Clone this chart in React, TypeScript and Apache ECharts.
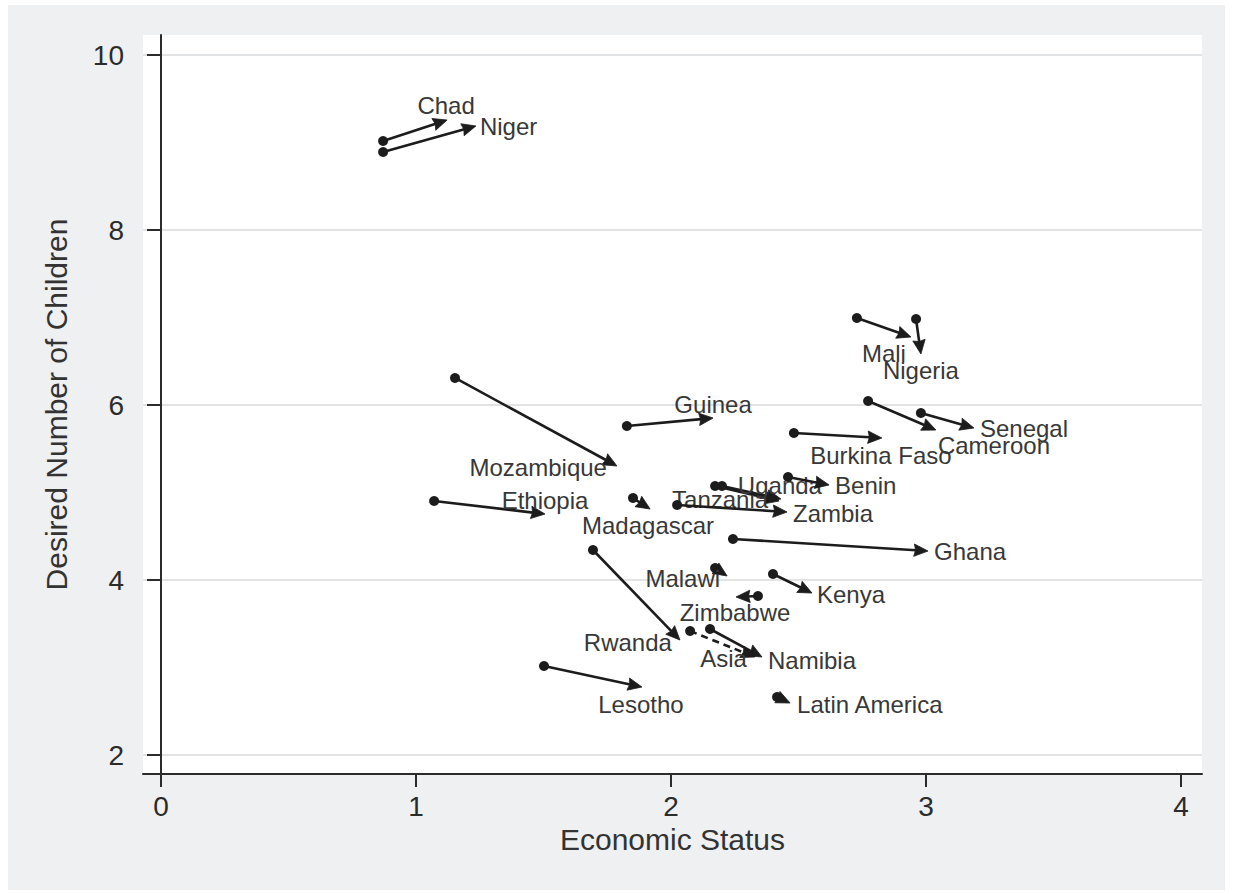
import React, { useEffect, useRef } from "react";
import * as echarts from "echarts";

// ---- data ----
const countries = [
  "Chad", "Niger", "Mali", "Nigeria", "Senegal", "Cameroon", "Burkina Faso",
  "Guinea", "Mozambique", "Ethiopia", "Madagascar", "Tanzania", "Uganda",
  "Zambia", "Benin", "Ghana", "Kenya", "Malawi", "Zimbabwe", "Rwanda",
  "Asia", "Namibia", "Lesotho", "Latin America",
];
const startStatus = [
  0.871, 0.871, 2.729, 2.961, 2.98, 2.773, 2.482, 1.827, 1.153, 1.071, 1.851,
  2.173, 2.2, 2.024, 2.459, 2.243, 2.4, 2.173, 2.341, 1.694, 2.075, 2.153,
  1.502, 2.416,
];
const startChildren = [
  9.017, 8.891, 6.994, 6.983, 5.909, 6.046, 5.68, 5.76, 6.309, 4.903, 4.937,
  5.074, 5.074, 4.857, 5.177, 4.469, 4.069, 4.137, 3.817, 4.343, 3.417, 3.44,
  3.017, 2.663,
];
const endStatus = [
  1.122, 1.235, 2.941, 2.98, 3.188, 3.039, 2.827, 2.165, 1.788, 1.506, 1.918,
  2.424, 2.431, 2.455, 2.62, 3.008, 2.553, 2.22, 2.255, 2.035, 2.329, 2.357,
  1.886, 2.467,
];
const endChildren = [
  9.257, 9.189, 6.777, 6.583, 5.737, 5.714, 5.623, 5.851, 5.303, 4.754, 4.811,
  4.903, 4.926, 4.777, 5.086, 4.331, 3.851, 4.046, 3.806, 3.314, 3.12, 3.12,
  2.777, 2.594,
];
const dashedGroups = ["Asia"];

const xTicks = [0, 1, 2, 3, 4];
const yTicks = [2, 4, 6, 8, 10];

// ---- label placement (layout, not data) ----
const labelAlign = [
  "center", "left", "right", "center", "left", "left", "center", "center",
  "right", "center", "center", "right", "center", "left", "left", "left",
  "left", "right", "center", "right", "right", "left", "center", "left",
];
const labelDx = [-1, 4, -5, 0, 6, 2, -1, 0, -10, 0, -2, -11, -1, 6, 6, 6, 5, -7, -1, -8, -8, 6, -1, 7];
const labelDy = [-15, 1, 16, 17, 0, 15, 18, -14, 2, -14, 16, -1, -13, 1, 1, 0, 1, 3, 16, 2, 1, 3, 17, 1];

const FONT = "'Liberation Sans', Arial, Helvetica, sans-serif";

export default function App() {
  const ref = useRef<HTMLDivElement>(null);

  useEffect(() => {
    if (!ref.current) return;
    const chart = echarts.init(ref.current, null, { renderer: "svg" });

    const rows = countries.map((_, i) => [
      startStatus[i],
      startChildren[i],
      endStatus[i],
      endChildren[i],
      i,
    ]);

    const option: any = {
      animation: false,
      backgroundColor: "#eff0f2",
      grid: {
        left: 135,
        top: 30,
        right: 23,
        bottom: 116,
        show: true,
        backgroundColor: "#ffffff",
        borderWidth: 0,
      },
      xAxis: {
        type: "value",
        min: -0.0706,
        max: 4.0824,
        name: "Economic Status",
        nameLocation: "middle",
        nameGap: 50,
        nameTextStyle: { fontSize: 30, color: "#333", fontFamily: FONT },
        axisLine: { show: true, lineStyle: { color: "#2b2b2b", width: 2 } },
        axisTick: {
          show: true,
          length: 13,
          customValues: xTicks,
          lineStyle: { color: "#2b2b2b", width: 2 },
        },
        axisLabel: {
          customValues: xTicks,
          fontSize: 28,
          color: "#2b2b2b",
          fontFamily: FONT,
          margin: 18,
        },
        splitLine: { show: false },
      },
      yAxis: {
        type: "value",
        min: 1.7829,
        max: 10.2286,
        name: "Desired Number of Children",
        nameLocation: "middle",
        nameGap: 72,
        nameTextStyle: { fontSize: 30, color: "#333", fontFamily: FONT },
        axisLine: { show: true, lineStyle: { color: "#2b2b2b", width: 2 } },
        axisTick: {
          show: true,
          length: 14,
          customValues: yTicks,
          lineStyle: { color: "#2b2b2b", width: 2 },
        },
        axisLabel: {
          customValues: yTicks,
          fontSize: 28,
          color: "#2b2b2b",
          fontFamily: FONT,
          margin: 19,
        },
        splitLine: {
          show: true,
          lineStyle: { color: "#e1e3e5", width: 2 },
        },
      },
      series: [
        {
          type: "custom",
          coordinateSystem: "cartesian2d",
          data: rows,
          encode: { x: [0, 2], y: [1, 3] },
          clip: false,
          renderItem: (params: any, api: any) => {
            const i = api.value(4);
            const p0 = api.coord([api.value(0), api.value(1)]);
            const p1 = api.coord([api.value(2), api.value(3)]);
            const dx = p1[0] - p0[0];
            const dy = p1[1] - p0[1];
            const len = Math.hypot(dx, dy) || 1;
            const ux = dx / len;
            const uy = dy / len;
            const nx = -uy;
            const ny = ux;
            const headLen = 14;
            const headHalf = 6.2;
            const bx = p1[0] - ux * headLen;
            const by = p1[1] - uy * headLen;
            const dashed = dashedGroups.indexOf(countries[i]) >= 0;
            const color = "#1c1c1c";
            return {
              type: "group",
              children: [
                {
                  type: "line",
                  shape: {
                    x1: p0[0],
                    y1: p0[1],
                    x2: bx + ux * 2,
                    y2: by + uy * 2,
                  },
                  style: {
                    stroke: color,
                    lineWidth: 2.6,
                    lineDash: dashed ? [7, 5] : null,
                  },
                },
                {
                  type: "polygon",
                  shape: {
                    points: [
                      [p1[0], p1[1]],
                      [bx + nx * headHalf, by + ny * headHalf],
                      [bx + ux * 1.5, by + uy * 1.5],
                      [bx - nx * headHalf, by - ny * headHalf],
                    ],
                  },
                  style: { fill: color, stroke: color, lineWidth: 0.8 },
                },
                {
                  type: "circle",
                  shape: { cx: p0[0], cy: p0[1], r: 5 },
                  style: { fill: color },
                },
                {
                  type: "text",
                  style: {
                    text: countries[i],
                    x: p1[0] + labelDx[i],
                    y: p1[1] + labelDy[i],
                    align: labelAlign[i],
                    verticalAlign: "middle",
                    fill: "#383838",
                    font: `24px ${FONT}`,
                  },
                },
              ],
            };
          },
        },
      ],
    };

    chart.setOption(option);
    return () => chart.dispose();
  }, []);

  return (
    <div
      style={{
        position: "fixed",
        left: 0,
        top: 0,
        width: 1233,
        height: 894,
        background: "#ffffff",
      }}
    >
      <div
        ref={ref}
        style={{
          position: "absolute",
          left: 8,
          top: 5,
          width: 1217,
          height: 885,
        }}
      />
    </div>
  );
}
